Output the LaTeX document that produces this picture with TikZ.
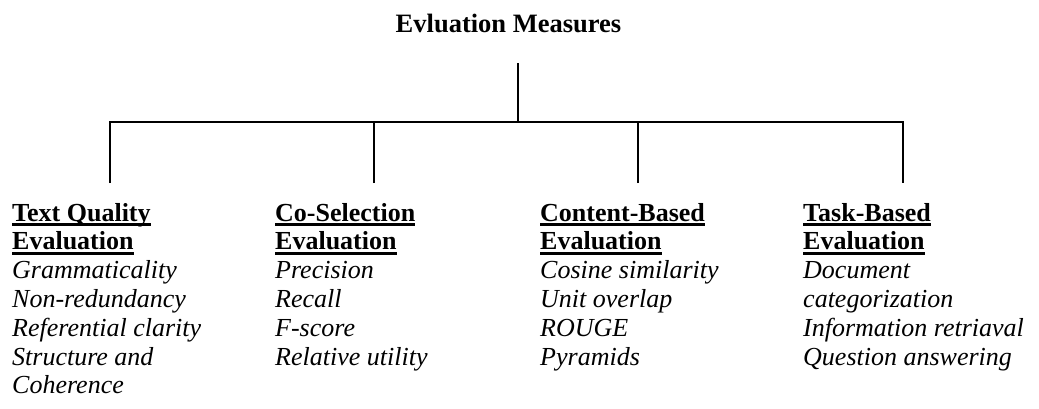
\documentclass[tikz,border=0pt]{standalone}
\usepackage{fontspec}
\setmainfont{Liberation Serif}
% underlined heading: a heavy rule just under the baseline
\newcommand\hdline[1]{\setbox0\hbox{\bfseries #1}\hbox{\rlap{\rule[-4.9pt]{\wd0}{3.2pt}}\box0}}
\newcommand\itline[1]{\hbox{\itshape #1}}
\begin{document}
\begin{tikzpicture}[x=1pt,y=-1pt,
  treeline/.style={line width=1.8pt,black},
  column/.style={anchor=base west,inner sep=0pt,font=\fontsize{26}{28.8}\selectfont},
  heading/.style={anchor=base,inner sep=0pt,font=\fontsize{26.5}{28.8}\selectfont\bfseries}]
\useasboundingbox (0,0) rectangle (1039,408);

\node[heading] (title) at (508.5,32) {Evluation Measures};

% column texts
\node[column] (tq) at (12,221) {\vtop{\baselineskip=28.8pt
  \hdline{Text Quality}\hdline{Evaluation}\itline{Grammaticality}\itline{Non-redundancy}%
  \itline{Referential clarity}\itline{Structure and}\itline{Coherence}}};
\node[column] (cs) at (275,221) {\vtop{\baselineskip=28.8pt
  \hdline{Co-Selection}\hdline{Evaluation}\itline{Precision}\itline{Recall}%
  \itline{F-score}\itline{Relative utility}}};
\node[column] (cb) at (540,221) {\vtop{\baselineskip=28.8pt
  \hdline{Content-Based}\hdline{Evaluation}\itline{Cosine similarity}\itline{Unit overlap}%
  \itline{ROUGE}\itline{Pyramids}}};
\node[column] (tb) at (803,221) {\vtop{\baselineskip=28.8pt
  \hdline{Task-Based}\hdline{Evaluation}\itline{Document}\itline{categorization}%
  \itline{Information retriaval}\itline{Question answering}}};

% tree connectors
\coordinate (root) at (518,63);
\coordinate (bus) at (518,122);
\coordinate (c1) at (110,183);
\coordinate (c2) at (374,183);
\coordinate (c3) at (638,183);
\coordinate (c4) at (903,183);

\draw[treeline] (root) -- (bus);
\draw[treeline] (c1) |- (bus) -| (c4);
\draw[treeline] (c2) -- (c2 |- bus);
\draw[treeline] (c3) -- (c3 |- bus);
\end{tikzpicture}
\end{document}
